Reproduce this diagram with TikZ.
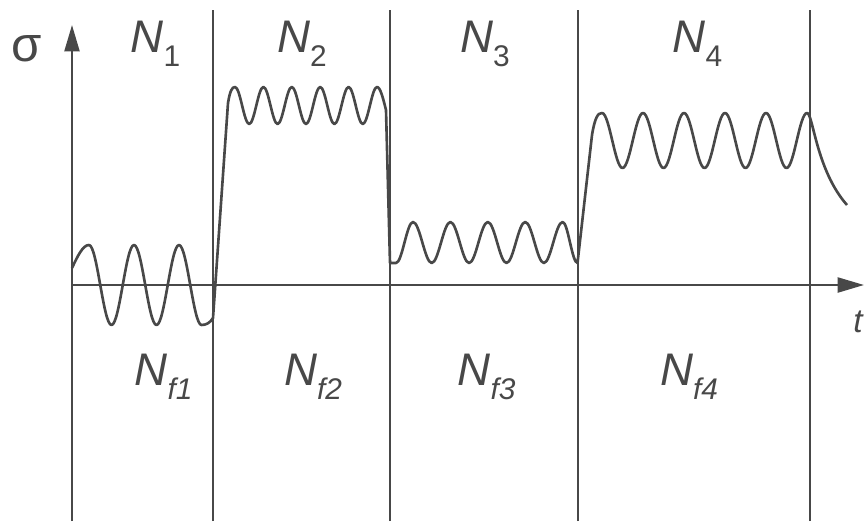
\documentclass[tikz,border=0pt]{standalone}
\usepackage{fontspec}
\setmainfont{Liberation Sans}
\usetikzlibrary{arrows.meta}

\definecolor{ink}{HTML}{484848}
% label with a lowered index
\newcommand{\nlab}[1]{{\itshape N}\raisebox{-8.5pt}{\fontsize{17}{20}\selectfont #1}}

\begin{document}
\begin{tikzpicture}[
  x=0.02cm, y=0.02cm,
  ax/.style={line width=1.4pt, draw=ink, -{Triangle[length=15pt, width=8.5pt]}},
  sep/.style={line width=1.2pt, draw=ink},
  sig/.style={line width=1.5pt, draw=ink, line join=round},
  lbl/.style={font=\fontsize{26}{30}\selectfont, text=ink, inner sep=0pt, anchor=base}
]
\useasboundingbox (-72,-236) rectangle (792,285);

% cycle borders
\foreach \x in {141,318,506,738}
  \draw[sep] (\x,-236) -- (\x,275);

% axes
\draw[ax] (0,-236) -- (0,260);
\draw[ax] (0,0) -- (792,0);
\node[font=\fontsize{28}{30}\selectfont, text=ink, inner sep=0pt] (sigma) at (-45.5,236.5) {σ};
\node[font=\fontsize{19}{22}\selectfont\itshape, text=ink, inner sep=0pt] (time) at (786,-37) {t};

% stress signal
\draw[sig] (0,17) sin (17,40)
  foreach \k in {0,1} { cos ({28.25+45*\k},0) sin ({39.5+45*\k},-40) cos ({50.75+45*\k},0) sin ({62+45*\k},40) }
  cos (118.25,0) sin (129.5,-40)
  .. controls (134,-40) and (138,-38) .. (141,-33)
  -- (156,182) .. controls (158,194) and (160,198) .. (163,198)
  foreach \k in {0,...,4} { cos ({170.1+28.4*\k},179.5) sin ({177.2+28.4*\k},161) cos ({184.3+28.4*\k},179.5) sin ({191.4+28.4*\k},198) }
  cos (314,175) -- (318,22) -- (324,22)
  cos (332.5,42.5) sin (341,63)
  foreach \k in {0,...,3} { cos ({350.35+37.4*\k},42.5) sin ({359.7+37.4*\k},22) cos ({369.05+37.4*\k},42.5) sin ({378.4+37.4*\k},63) }
  cos (498,42.5) sin (505.5,22)
  -- (520,150) .. controls (523,168) and (526,172) .. (530,172)
  foreach \k in {0,...,4} { cos ({540.25+41*\k},144.5) sin ({550.5+41*\k},117) cos ({560.75+41*\k},144.5) sin ({571+41*\k},172) }
  .. controls (741,172) and (744,115) .. (775,80);

% block labels
\node[lbl] (n1) at (83.5,233) {\nlab{1}};
\node[lbl] (n2) at (230,233) {\nlab{2}};
\node[lbl] (n3) at (413,233) {\nlab{3}};
\node[lbl] (n4) at (625.5,233) {\nlab{4}};
\node[lbl] (nf1) at (91.5,-100) {\nlab{\itshape f1}};
\node[lbl] (nf2) at (241,-100) {\nlab{\itshape f2}};
\node[lbl] (nf3) at (414.5,-100) {\nlab{\itshape f3}};
\node[lbl] (nf4) at (617,-100) {\nlab{\itshape f4}};
\end{tikzpicture}
\end{document}
